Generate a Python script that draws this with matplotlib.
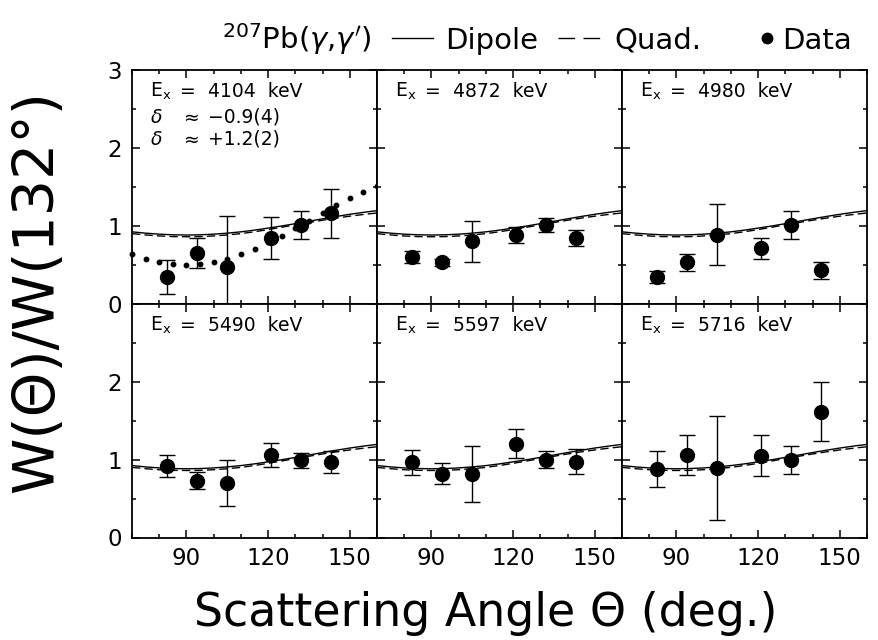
import matplotlib.pyplot as plt
from matplotlib.lines import Line2D
from matplotlib.ticker import MultipleLocator

# detector angles (deg) and measured ratios W(theta)/W(132)
angles = [83, 94, 105, 121, 132, 143]
energies = [4104, 4872, 4980, 5490, 5597, 5716]

w_4104 = [0.34, 0.65, 0.47, 0.84, 1.01, 1.16]
err_4104 = [0.22, 0.19, 0.65, 0.27, 0.18, 0.31]
w_4872 = [0.60, 0.53, 0.80, 0.88, 1.01, 0.84]
err_4872 = [0.08, 0.04, 0.26, 0.10, 0.085, 0.105]
w_4980 = [0.34, 0.53, 0.885, 0.71, 1.01, 0.43]
err_4980 = [0.08, 0.105, 0.39, 0.14, 0.18, 0.11]
w_5490 = [0.92, 0.73, 0.70, 1.06, 0.99, 0.97]
err_5490 = [0.14, 0.11, 0.295, 0.15, 0.10, 0.145]
w_5597 = [0.965, 0.82, 0.82, 1.205, 1.00, 0.97]
err_5597 = [0.16, 0.135, 0.36, 0.19, 0.11, 0.16]
w_5716 = [0.875, 1.055, 0.89, 1.05, 0.995, 1.615]
err_5716 = [0.23, 0.255, 0.67, 0.265, 0.185, 0.38]

theory_angles = [70, 75, 80, 85, 90, 95, 100, 105, 110, 115,
                 120, 125, 130, 135, 140, 145, 150, 155, 160]
dipole = [0.923, 0.906, 0.893, 0.885, 0.882, 0.885, 0.893, 0.906, 0.923, 0.945,
          0.971, 0.998, 1.028, 1.059, 1.090, 1.120, 1.148, 1.173, 1.195]
quad = [0.900, 0.883, 0.870, 0.862, 0.860, 0.862, 0.870, 0.883, 0.900, 0.924,
        0.952, 0.982, 1.013, 1.043, 1.072, 1.099, 1.124, 1.146, 1.165]
# mixed dipole/quadrupole curve shown for the 4104 keV level
mixed_4104 = [0.640, 0.577, 0.540, 0.513, 0.500, 0.513, 0.540, 0.577, 0.640, 0.708,
              0.788, 0.875, 0.972, 1.068, 1.171, 1.266, 1.357, 1.437, 1.511]

ratios = [w_4104, w_4872, w_4980, w_5490, w_5597, w_5716]
errors = [err_4104, err_4872, err_4980, err_5490, err_5597, err_5716]

plt.rcParams['font.family'] = 'DejaVu Sans'
plt.rcParams['mathtext.fontset'] = 'dejavusans'

fig, axes = plt.subplots(2, 3, figsize=(8.79, 6.40), dpi=100)
fig.subplots_adjust(left=132 / 879, right=867 / 879, top=1 - 70 / 640,
                    bottom=1 - 537.5 / 640, wspace=0, hspace=0)

fs_in = 13.5
for i, ax in enumerate(axes.flat):
    row, col = divmod(i, 3)
    ax.plot(theory_angles, dipole, '-', color='black', lw=1.0)
    ax.plot(theory_angles, quad, '--', color='black', lw=1.0, dashes=(6, 3))
    if i == 0:
        ax.plot(theory_angles, mixed_4104, 'o', color='black', ms=3.2,
                clip_on=False, zorder=4)
    ax.errorbar(angles, ratios[i], yerr=errors[i], fmt='o', color='black',
                ms=10, elinewidth=1.0, capsize=5.5, capthick=1.0, zorder=5)

    ax.set_xlim(70, 160)
    ax.set_ylim(0, 3)
    ax.xaxis.set_minor_locator(MultipleLocator(10))
    ax.set_xticks([90, 120, 150])
    ax.yaxis.set_minor_locator(MultipleLocator(0.5))
    ax.set_yticks([0, 1, 2, 3])
    ax.tick_params(which='both', direction='in', top=True, right=True,
                   labelsize=16.5, pad=7)
    ax.tick_params(which='major', length=6, width=1.1)
    ax.tick_params(which='minor', length=3, width=1.1)
    for sp in ax.spines.values():
        sp.set_linewidth(1.3)

    if col == 0:
        if row == 0:
            ax.set_yticklabels(['0', '1', '2', '3'])
        else:
            ax.set_yticklabels(['0', '1', '2', ''])
    else:
        ax.set_yticklabels([])
    if row == 1:
        ax.set_xticklabels(['90', '120', '150'])
    else:
        ax.set_xticklabels([])

    ybase = 1 - 27 / 234
    ax.text(0.073, ybase, r'E$_{\mathregular{x}}$', transform=ax.transAxes,
            fontsize=fs_in, va='baseline')
    ax.text(0.195, ybase, '=', transform=ax.transAxes, fontsize=fs_in,
            va='baseline')
    ax.text(0.31, ybase, f'{energies[i]}  keV', transform=ax.transAxes,
            fontsize=fs_in, va='baseline')

    if i == 0:
        for yb, val in [(1 - 53 / 235, '\u22120.9(4)'), (1 - 75 / 235, '+1.2(2)')]:
            ax.text(0.073, yb, r'$\delta$', transform=ax.transAxes,
                    fontsize=fs_in, va='baseline')
            ax.text(0.195, yb, r'$\approx$', transform=ax.transAxes,
                    fontsize=fs_in, va='baseline')
            ax.text(0.31, yb, val, transform=ax.transAxes,
                    fontsize=fs_in, va='baseline')

# header line with the legend
fs_head = 21
ytop = 1 - 38 / 640
ybl = 1 - 49 / 640
fig.text(222 / 879, ybl, r"$^{\mathregular{207}}$Pb($\gamma$,$\gamma'$)",
         fontsize=fs_head, va='baseline')
fig.add_artist(Line2D([392 / 879, 433 / 879], [ytop, ytop], color='black', lw=1.0))
fig.text(445 / 879, ybl, 'Dipole', fontsize=fs_head, va='baseline')
fig.add_artist(Line2D([558 / 879, 602 / 879], [ytop, ytop], color='black', lw=1.0,
                      ls='--', dashes=(12, 6)))
fig.text(614 / 879, ybl, 'Quad.', fontsize=fs_head, va='baseline')
fig.add_artist(Line2D([767 / 879], [ytop], color='black', marker='o', ms=7.5,
                      ls='none'))
fig.text(782 / 879, ybl, 'Data', fontsize=fs_head, va='baseline')

fig.text(38 / 879, 1 - 292 / 640, 'W(\u0398)/W(132\u00b0)', rotation=90,
         fontsize=41, ha='center', va='center')
fig.text(486 / 879, 1 - 626 / 640, 'Scattering Angle \u0398 (deg.)',
         fontsize=33, ha='center', va='baseline')

fig.savefig('out.png', dpi=100)
